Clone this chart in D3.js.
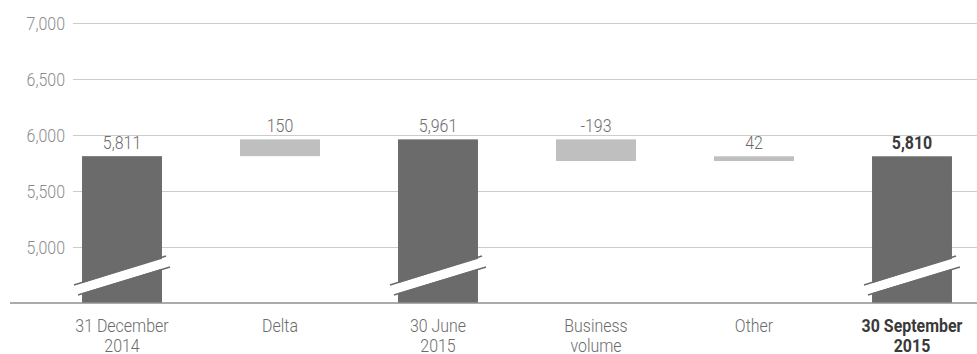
<!DOCTYPE html>
<html>
<head>
<meta charset="utf-8">
<script src="https://cdn.jsdelivr.net/npm/d3@7"></script>
<style>
  body { margin: 0; background: #fff; }
  text { font-family: "Roboto", sans-serif; font-weight: 300; }
</style>
</head>
<body>
<div id="chart"></div>
<script>
const DARK_GREY = "#6b6b6b"
const LIGHT_GREY = "#bfbfbf"
const GRID = "#cccccc"
const SQUEEZE = 0.84   // fake a condensed face

// categories (each label may span two lines)
var categories = ["31 December\n2014", "Delta", "30 June\n2015", "Business\nvolume", "Other", "30 September\n2015"];
// total bars vs. change bars
var barTypes = ["total", "change", "total", "change", "change", "total"];
var values = [5811, 150, 5961, -193, 42, 5810];
var labels = ["5,811", "150", "5,961", "-193", "42", "5,810"];
var yTicks = [5000, 5500, 6000, 6500, 7000];

var width = 977, height = 354;
var svg = d3.select("#chart").append("svg")
  .attr("width", width)
  .attr("height", height);

var x = d3.scaleBand()
  .domain(categories)
  .range([43, 991])
  .paddingInner(0.494)
  .paddingOuter(0.247);

var y = d3.scaleLinear()
  .domain([4500, 7000])
  .range([303, 23]);

function squeezed(sel, fx, fy) {
  return sel.attr("transform", function(d, i) {
    return "translate(" + fx(d, i) + "," + fy(d, i) + ") scale(" + SQUEEZE + ",1)";
  });
}

// build waterfall start/end
var running = 0;
var bars = values.map(function(v, i) {
  var b;
  if (barTypes[i] == "total") {
    b = {y0: y.domain()[0], y1: v};
    running = v;
  } else {
    b = {y0: running, y1: running + v};
    running = running + v;
  }
  b.cat = categories[i];
  b.type = barTypes[i];
  b.label = labels[i];
  b.bold = i == categories.length - 1;
  return b;
});

// gridlines
svg.append("g")
  .selectAll("line")
  .data(yTicks)
  .enter().append("line")
  .attr("x1", 73)
  .attr("x2", width)
  .attr("y1", function(d) { return Math.round(y(d)) + 0.5; })
  .attr("y2", function(d) { return Math.round(y(d)) + 0.5; })
  .attr("stroke", GRID)
  .attr("stroke-width", 1);

// y tick labels
squeezed(svg.append("g")
  .selectAll("text")
  .data(yTicks)
  .enter().append("text"),
  function() { return 65; }, function(d) { return y(d) + 7; })
  .attr("text-anchor", "end")
  .attr("fill", "#8c8c8c")
  .style("font-size", "19px")
  .text(d3.format(","));

// bars
svg.append("g")
  .selectAll("rect")
  .data(bars)
  .enter().append("rect")
  .attr("x", function(d) { return x(d.cat); })
  .attr("width", x.bandwidth())
  .attr("y", function(d) { return y(Math.max(d.y0, d.y1)); })
  .attr("height", function(d) { return Math.abs(y(d.y0) - y(d.y1)); })
  .attr("fill", function(d) { return d.type == "total" ? DARK_GREY : LIGHT_GREY; });

// axis break marks on total bars
var breakVal = 4750;
var totals = bars.filter(function(d) { return d.type == "total"; });
var brk = svg.append("g").selectAll("g")
  .data(totals)
  .enter().append("g")
  .attr("transform", function(d) {
    return "translate(" + (x(d.cat) + x.bandwidth() / 2) + "," + y(breakVal) + ")";
  });
brk.append("polygon")
  .attr("points", "-46,10 46,-18 46,-8 -46,20")
  .attr("fill", "#fff");
brk.append("line")
  .attr("x1", -48).attr("y1", 10).attr("x2", 44).attr("y2", -19)
  .attr("stroke", DARK_GREY).attr("stroke-width", 1.5);
brk.append("line")
  .attr("x1", -44).attr("y1", 20).attr("x2", 48).attr("y2", -8)
  .attr("stroke", DARK_GREY).attr("stroke-width", 1.5);

// baseline
svg.append("line")
  .attr("x1", 10)
  .attr("x2", width)
  .attr("y1", 303)
  .attr("y2", 303)
  .attr("stroke", "#8f8f8f")
  .attr("stroke-width", 1.5);

// value labels
squeezed(svg.append("g")
  .selectAll("text")
  .data(bars)
  .enter().append("text"),
  function(d) { return x(d.cat) + x.bandwidth() / 2; },
  function(d) { return y(Math.max(d.y0, d.y1)) - 7; })
  .attr("text-anchor", "middle")
  .attr("fill", function(d) { return d.bold ? "#3a3a3a" : "#6b6b6b"; })
  .style("font-size", "19px")
  .style("font-weight", function(d) { return d.bold ? "bold" : 300; })
  .text(function(d) { return d.label; });

// category labels
var cat = squeezed(svg.append("g")
  .selectAll("text")
  .data(bars)
  .enter().append("text"),
  function(d) { return x(d.cat) + x.bandwidth() / 2; },
  function() { return 332; })
  .attr("text-anchor", "middle")
  .attr("fill", function(d) { return d.bold ? "#3a3a3a" : "#6b6b6b"; })
  .style("font-size", "19px")
  .style("font-weight", function(d) { return d.bold ? "bold" : 300; });
cat.each(function(d) {
  var lines = d.cat.split("\n");
  var t = d3.select(this);
  lines.forEach(function(l, i) {
    t.append("tspan")
      .attr("x", 0)
      .attr("dy", i == 0 ? 0 : 20)
      .text(l);
  });
});
</script>
</body>
</html>
